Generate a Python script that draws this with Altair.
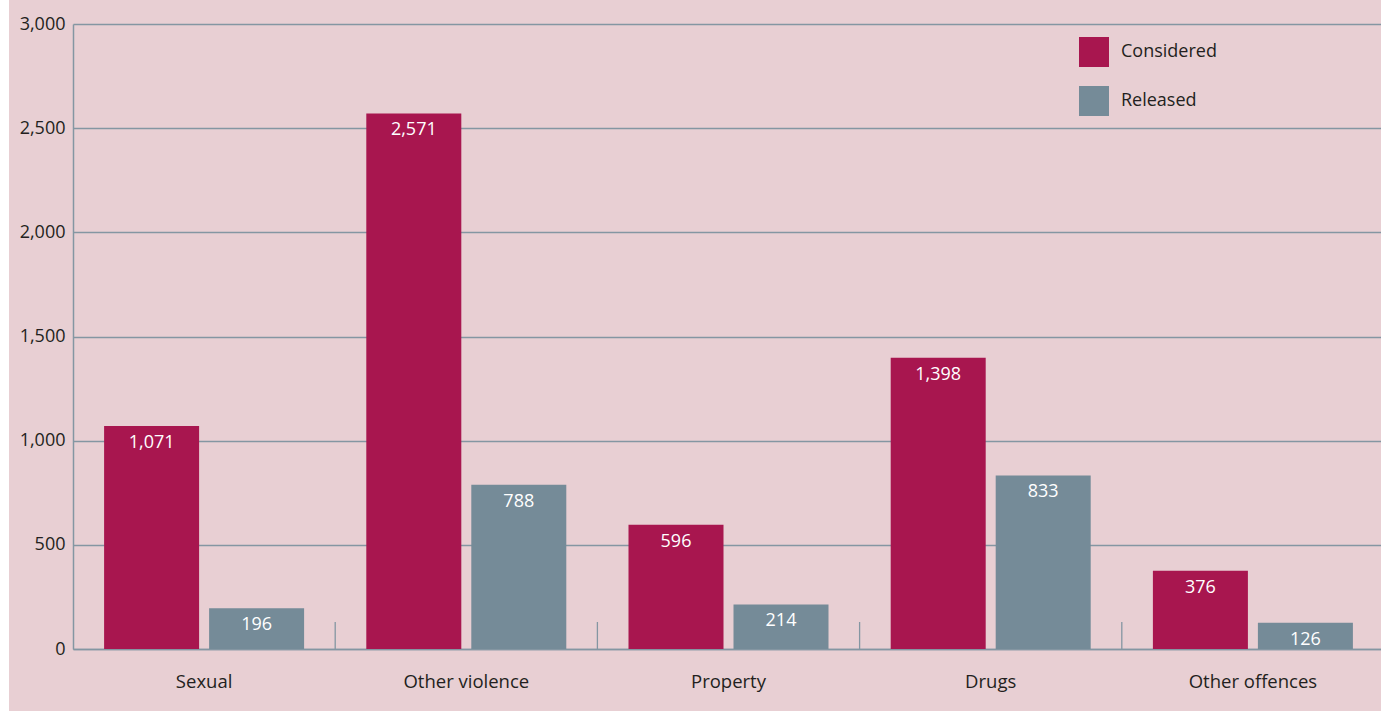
import altair as alt
import pandas as pd

offences = ["Sexual", "Other violence", "Property", "Drugs", "Other offences"]
considered = [1071, 2571, 596, 1398, 376]
released = [196, 788, 214, 833, 126]
series = ["Considered", "Released"]
colors = ["#a8164f", "#758b98"]
y_ticks = [0, 500, 1000, 1500, 2000, 2500, 3000]

rows = []
for o, c, r in zip(offences, considered, released):
    rows.append({"Offence": o, "Series": "Considered", "Value": c})
    rows.append({"Offence": o, "Series": "Released", "Value": r})
df = pd.DataFrame(rows)
sep = pd.DataFrame({"Offence": offences[1:]})

W, H = 1308, 625
XR = 1311
FONT = "Open Sans"
TXT = "#231f20"
LINE = "#8496a2"
BG = "#e8cfd3"

step = XR / 5
pi = 1 - 200 / step
xscale = alt.Scale(domain=offences, range=[0, XR], paddingInner=pi, paddingOuter=pi / 2)
xoff_scale = alt.Scale(domain=series, paddingInner=0.0952, paddingOuter=0)
yscale = alt.Scale(domain=[0, 3000], nice=False)

base = alt.Chart(df)

strip = alt.Chart(pd.DataFrame({"a": [0]})).mark_rect(color="white").encode(
    x=alt.value(-74), x2=alt.value(-64), y=alt.value(-30), y2=alt.value(H + 70)
)

bars = base.mark_bar().encode(
    x=alt.X("Offence:N", scale=xscale, sort=offences,
            axis=alt.Axis(title=None, labelAngle=0, ticks=False, labelPadding=23,
                          labelFontSize=18.5, labelFont=FONT, labelColor=TXT,
                          domainColor=LINE, domainWidth=1.5, grid=False)),
    xOffset=alt.XOffset("Series:N", scale=xoff_scale, sort=series),
    y=alt.Y("Value:Q", scale=yscale,
            axis=alt.Axis(title=None, values=y_ticks, format=",.0f", ticks=False,
                          labelPadding=8, labelFontSize=18, labelFont=FONT,
                          labelColor=TXT, domainColor=LINE, domainWidth=1.5,
                          gridColor=LINE, gridWidth=1.3, gridOpacity=1)),
    color=alt.Color("Series:N", scale=alt.Scale(domain=series, range=colors),
                    legend=alt.Legend(title=None, orient="none", legendX=1006, legendY=13,
                                      symbolType="square", symbolSize=900,
                                      symbolStrokeWidth=0, labelFontSize=18,
                                      labelFont=FONT, labelColor=TXT, labelOffset=12,
                                      rowPadding=19, padding=0)),
)

labels = base.mark_text(color="white", font=FONT, fontSize=18, baseline="middle", dy=17).encode(
    x=alt.X("Offence:N", scale=xscale, sort=offences),
    xOffset=alt.XOffset("Series:N", scale=xoff_scale, sort=series),
    y=alt.Y("Value:Q", scale=yscale),
    text=alt.Text("Value:Q", format=",.0f"),
)

seps = alt.Chart(sep).mark_rule(color=LINE, strokeWidth=1.3, xOffset=-step * pi / 2).encode(
    x=alt.X("Offence:N", scale=xscale, sort=offences, bandPosition=0),
    y=alt.value(H - 27),
    y2=alt.value(H),
)

chart = alt.layer(bars, labels, seps, strip).properties(
    width=W, height=H,
    autosize=alt.AutoSizeParams(type="none"),
    padding={"left": 73, "top": 24, "right": 0, "bottom": 62},
    background=BG,
).configure_view(stroke=None)

chart.save("out.html", embed_options={"renderer": "svg", "actions": False})
